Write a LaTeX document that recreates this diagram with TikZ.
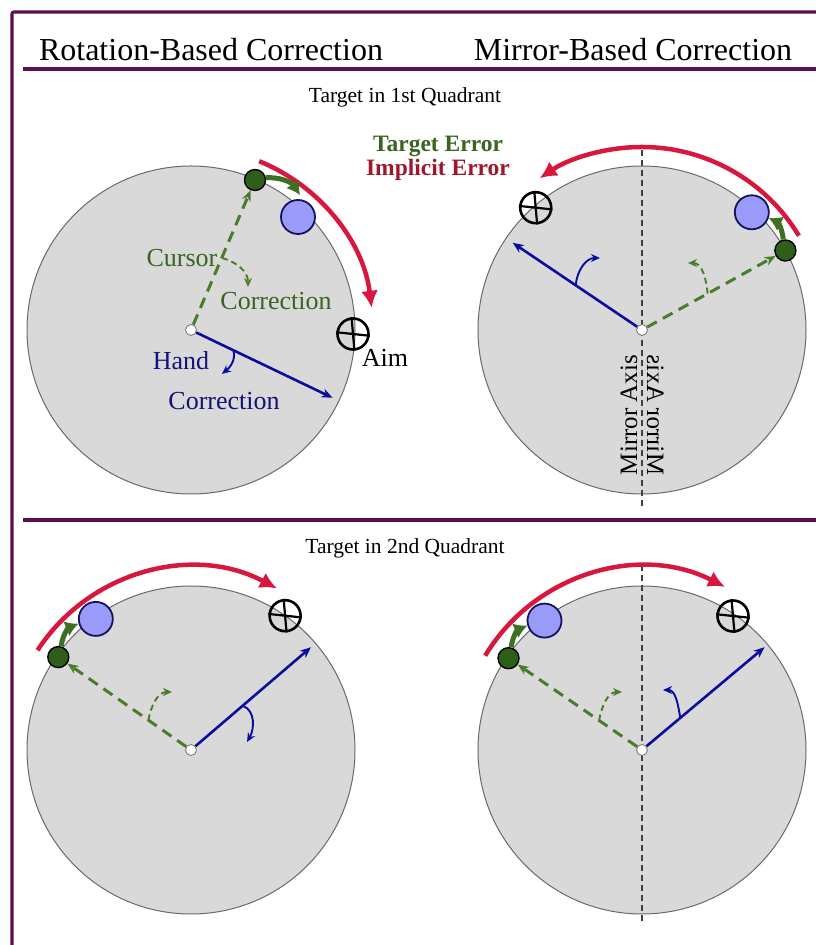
\documentclass[tikz,border=0pt]{standalone}
\usepackage{fontspec}
\setmainfont{Liberation Serif}
\usepackage{graphicx}
\usetikzlibrary{arrows.meta,calc}

\definecolor{framepurple}{HTML}{5A1050}
\definecolor{diskgray}{HTML}{D9D9D9}
\definecolor{diskedge}{HTML}{6A6A6A}
\definecolor{cursorgreen}{HTML}{2F5E1A}
\definecolor{errgreen}{HTML}{3E7022}
\definecolor{dashgreen}{HTML}{4A7D2A}
\definecolor{labelgreen}{HTML}{3A6420}
\definecolor{targetblue}{HTML}{9A9AF8}
\definecolor{navyedge}{HTML}{14145E}
\definecolor{handblue}{HTML}{0C0C9C}
\definecolor{labelblue}{HTML}{12127A}
\definecolor{errred}{HTML}{D8173E}
\definecolor{labelred}{HTML}{A0172C}

\tikzset{
  disk/.style={circle, fill=diskgray, draw=diskedge, line width=1, minimum size=328, inner sep=0pt},
  hub/.style={circle, fill=white, draw=black!55, line width=0.8, minimum size=11, inner sep=0pt},
  cursordot/.style={circle, fill=cursorgreen, draw=black, line width=1.4, minimum size=21, inner sep=0pt},
  targetdot/.style={circle, fill=targetblue, draw=navyedge, line width=1.8, minimum size=34, inner sep=0pt},
  aimmark/.style={circle, draw=black, line width=2.6, minimum size=31, inner sep=0pt},
  aimcross/.style={draw=black, line width=2.2},
  implicitarc/.style={draw=errred, line width=4.5, -{Latex[length=17,width=17]}},
  targetarc/.style={draw=errgreen, line width=5, -{Latex[length=13,width=16]}},
  handline/.style={draw=handblue, line width=2.6, -{Stealth[length=11,width=9]}},
  cursorline/.style={draw=dashgreen, line width=3, dash pattern=on 11 off 7, -{Stealth[length=11,width=9]}},
  handturn/.style={draw=handblue, line width=1.9, -{Stealth[length=9,width=8]}},
  cursorturn/.style={draw=dashgreen, line width=1.9, dash pattern=on 6 off 4, -{Stealth[length=9,width=8]}},
  mirroraxis/.style={draw=black!75, line width=1.6, dash pattern=on 6 off 4},
  framerule/.style={draw=framepurple, line width=3.2},
  headtext/.style={font=\fontsize{32}{38}\selectfont},
  subtext/.style={font=\fontsize{21.5}{26}\selectfont},
  labeltext/.style={font=\fontsize{26}{30}\selectfont, inner sep=0pt},
  errtext/.style={font=\fontsize{23.5}{28}\selectfont\bfseries, inner sep=0pt},
  axistext/.style={font=\fontsize{25}{30}\selectfont, inner sep=0pt, rotate=90, anchor=base},
}

\begin{document}
\begin{tikzpicture}[x=1pt,y=1pt]
\useasboundingbox (0,0) rectangle (815,945);

% outer frame and section rules
\draw[framerule, rounded corners=2] (12,-10) -- (12,933) -- (830,933);
\draw[framerule] (23,876) -- (830,876);
\draw[framerule] (23,425) -- (830,425);

% column and row headings
\node[headtext] (hrot) at (211,895) {Rotation-Based Correction};
\node[headtext] (hmir) at (633,895) {Mirror-Based Correction};
\node[subtext] (q1) at (405,848) {Target in 1st Quadrant};
\node[subtext] (q2) at (405,397) {Target in 2nd Quadrant};

% legend
\node[errtext, text=labelgreen] (legT) at (438,799) {Target Error};
\node[errtext, text=labelred] (legI) at (438,775) {Implicit Error};

% ---------- rotation, 1st quadrant ----------
\node[disk] (d1) at (191,615) {};
\node[hub] (o1) at (191,615) {};
\node[cursordot] (u1) at (255,765) {};
\node[targetdot] (t1) at (298,728) {};
\node[aimmark] (a1) at (353,611) {};
\draw[aimcross] (a1.-6) -- (a1.174) (a1.95) -- (a1.275);
\node[labeltext] (aimlab) at (385,587) {Aim};
\coordinate (h1) at (332.6,547.2);
\coordinate (gs1) at (222,687);
\coordinate (ge1) at (248,658);
\coordinate (bs1) at (233.4,594.7);
\coordinate (be1) at (222,571);
\coordinate (te1) at (300,750);
\draw[cursorline] (o1) -- (u1);
\draw[handline] (o1) -- (h1);
\draw[cursorturn] (gs1) to[out=-15,in=90] (ge1);
\draw[handturn] (bs1) to[out=-75,in=40] (be1);
\draw[implicitarc] ($(o1)+(68:182)$) arc[start angle=68, end angle=7, radius=182];
\draw[targetarc] (u1) to[bend left=30] (te1);
\node[labeltext, text=labelgreen] (curlab) at (182,687) {Cursor};
\node[labeltext, text=labelgreen] (corlab) at (276,644) {Correction};
\node[labeltext, text=labelblue] (handlab) at (181,584) {Hand};
\node[labeltext, text=labelblue] (hcorlab) at (224,544) {Correction};

% ---------- mirror, 1st quadrant ----------
\node[disk] (d2) at (642,615) {};
\coordinate (m2top) at (642,795);
\coordinate (m2bot) at (642,438);
\draw[mirroraxis] (m2top) -- (m2bot);
\node[hub] (o2) at (642,615) {};
\node[cursordot] (u2) at (785.4,694.5) {};
\node[targetdot] (t2) at (751.8,732.7) {};
\node[aimmark] (a2) at (535.7,737.3) {};
\draw[aimcross] (a2.-6) -- (a2.174) (a2.95) -- (a2.275);
\coordinate (h2) at (512.7,702.2);
\coordinate (bs2) at (575.7,659.7);
\coordinate (be2) at (600,687);
\coordinate (gs2) at (707.6,651.4);
\coordinate (ge2) at (688,682);
\draw[cursorline] (o2) -- (u2);
\draw[handline] (o2) -- (h2);
\draw[handturn] (bs2) to[out=85,in=180] (be2);
\draw[cursorturn] (gs2) to[out=95,in=0] (ge2);
\draw[implicitarc] ($(o2)+(31:183)$) arc[start angle=31, end angle=124, radius=183];
\draw[targetarc] (u2) to[bend right=30] (t2);
\node[axistext] (axl) at (637,530) {Mirror Axis};
\node[axistext] (axr) at (647,530) {\scalebox{1}[-1]{Mirror Axis}};

% ---------- rotation, 2nd quadrant ----------
\node[disk] (d3) at (191,195) {};
\node[hub] (o3) at (191,195) {};
\node[cursordot] (u3) at (58.3,287.9) {};
\node[targetdot] (t3) at (95.8,326.1) {};
\node[aimmark] (a3) at (285.1,329.3) {};
\draw[aimcross] (a3.-6) -- (a3.174) (a3.95) -- (a3.275);
\coordinate (h3) at (311,297.8);
\coordinate (bs3) at (242.6,239.3);
\coordinate (be3) at (247,203);
\coordinate (gs3) at (148.4,224.8);
\coordinate (ge3) at (172,253);
\draw[cursorline] (o3) -- (u3);
\draw[handline] (o3) -- (h3);
\draw[handturn] (bs3) to[out=-20,in=60] (be3);
\draw[cursorturn] (gs3) to[out=80,in=180] (ge3);
\draw[implicitarc] ($(o3)+(147:183)$) arc[start angle=147, end angle=62, radius=183];
\draw[targetarc] (u3) to[bend left=30] (t3);

% ---------- mirror, 2nd quadrant ----------
\node[disk] (d4) at (642,195) {};
\coordinate (m4top) at (642,380);
\coordinate (m4bot) at (642,20);
\draw[mirroraxis] (m4top) -- (m4bot);
\node[hub] (o4) at (642,195) {};
\node[cursordot] (u4) at (508.5,286.8) {};
\node[targetdot] (t4) at (544.5,324.4) {};
\node[aimmark] (a4) at (733,329) {};
\draw[aimcross] (a4.-6) -- (a4.174) (a4.95) -- (a4.275);
\coordinate (h4) at (764.6,297.8);
\coordinate (bs4) at (680.3,227.1);
\coordinate (be4) at (663,255);
\coordinate (gs4) at (599.1,224.5);
\coordinate (ge4) at (622,253);
\draw[cursorline] (o4) -- (u4);
\draw[handline] (o4) -- (h4);
\draw[handturn] (bs4) to[out=100,in=0] (be4);
\draw[cursorturn] (gs4) to[out=80,in=180] (ge4);
\draw[implicitarc] ($(o4)+(149:183)$) arc[start angle=149, end angle=63, radius=183];
\draw[targetarc] (u4) to[bend left=30] (t4);
\end{tikzpicture}
\end{document}
